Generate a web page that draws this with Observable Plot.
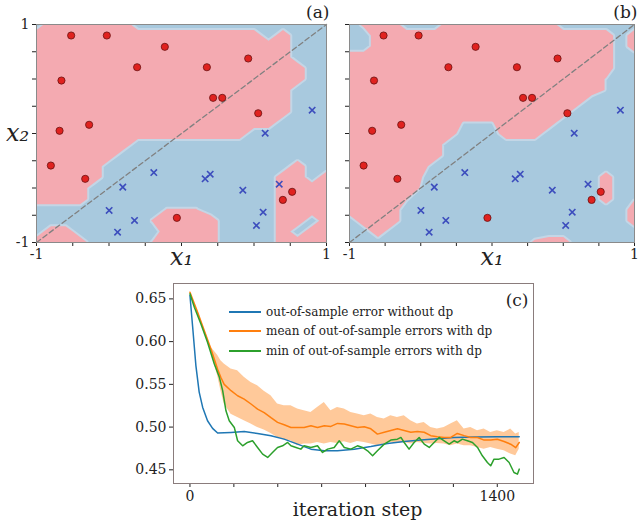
<!DOCTYPE html>
<html><head><meta charset="utf-8">
<script src="https://cdn.jsdelivr.net/npm/d3@7"></script>
<script src="https://cdn.jsdelivr.net/npm/@observablehq/plot@0.6"></script>
<style>
html,body{margin:0;padding:0;background:#fff;}
#fig{position:relative;width:639px;height:524px;overflow:hidden;}
#fig > .panel{position:absolute;}
.legend{position:absolute;left:229px;top:302px;font-family:"DejaVu Serif",serif;font-size:12px;color:#222;}
.legend div{display:flex;align-items:center;height:19.6px;white-space:nowrap;}
.legend span.sw{display:inline-block;width:32px;height:0;border-top:2px solid;margin-right:5px;}
</style></head><body><div id="fig"></div>
<script>
// ---------- data: panels (a) and (b) ----------
const redX = [-0.761,-0.515,-0.115,-0.306,0.175,0.46,-0.828,0.218,0.281,0.529,-0.841,-0.637,-0.901,-0.664,-0.032,0.763,0.699];
const redY = [0.899,0.899,0.795,0.608,0.608,0.688,0.486,0.327,0.327,0.186,0.025,0.080,-0.294,-0.416,-0.774,-0.535,-0.609];
const blueX = [0.901,0.577,-0.191,0.163,0.198,-0.405,0.423,0.674,-0.499,-0.324,0.563,-0.441,0.517];
const blueY = [0.214,0.003,-0.358,-0.416,-0.373,-0.492,-0.520,-0.465,-0.706,-0.798,-0.722,-0.905,-0.844];
const diagX = [-1, 1];
const diagY = [-1, 1];
const gridTicks = [-1,-0.75,-0.5,-0.25,0,0.25,0.5,0.75,1];
// decision grids: 21 x 21 samples from x=-1..1 (columns), y=1..-1 (rows); digit/9 = class-1 score
const gridA = [
"099999900000000000000",
"999999999999999909000",
"999999999999999999000",
"999999999999999999000",
"999999999999999999900",
"999999999999999999900",
"999999999999999999000",
"999999999999999999000",
"999999999999999999000",
"999999999999999990000",
"999999999999999000000",
"999999900000000000000",
"999999000000000000000",
"999990000000000000900",
"999990000000000009909",
"999900000000000009999",
"999900000000000009999",
"000000000555000009999",
"000000005999900009909",
"099000000999900009099",
"999900005999900009999"
];
const gridB = [
"069900099999999000000",
"009999999999999999909",
"009999999999999999909",
"999999999999999999900",
"999999999999999999900",
"999999999999999999400",
"999999999999999999400",
"999999999999999990000",
"999999999999999900000",
"999999994449999000000",
"999999990009990000000",
"999999900000000000000",
"999999900000000000000",
"999999000000000000000",
"999995000000000000800",
"999994000000000000800",
"999950000000000000804",
"999900000000000000009",
"099900000000000000009",
"009000000000000000000",
"000000000000069900000"
];
// ---------- data: panel (c) ----------
const noDpIter = [0,12,27,42,58,80,103,126,187,247,308,369,429,490,551,612,672,748,824,900,976,1052,1127,1203,1300,1400,1500];
const noDpErr = [0.6539,0.618,0.572,0.541,0.523,0.5074,0.4985,0.493,0.4938,0.4949,0.4926,0.4898,0.4859,0.4801,0.4742,0.4723,0.4723,0.4742,0.4773,0.4809,0.4832,0.4848,0.4863,0.4879,0.4885,0.4887,0.4887];
const dpIter = [0,35,65,96,126,141,156,187,217,247,278,308,338,369,399,429,460,490,520,551,581,612,642,672,703,733,763,794,824,854,885,915,945,976,1006,1036,1067,1097,1127,1158,1188,1218,1249,1279,1310,1340,1370,1400,1431,1461,1484,1500];
const dpMean = [0.6578,0.6344,0.613,0.591,0.5676,0.558,0.55,0.5426,0.5367,0.5328,
 0.527,0.5211,0.517,0.511,0.5055,0.5027,0.4996,0.4996,0.4996,0.5016,
 0.4996,0.5016,0.5008,0.5043,0.5035,0.5016,0.4996,0.5004,0.498,0.4918,
 0.494,0.496,0.498,0.496,0.494,0.4949,0.494,0.49,0.4887,0.4879,
 0.4879,0.4926,0.49,0.4879,0.4879,0.4848,0.4848,0.4858,0.4832,0.48,
 0.476,0.482];
const dpHigh = [0.6578,0.636,0.615,0.5934,0.584,0.5777,0.5738,0.568,0.566,0.5582,
 0.5523,0.5484,0.542,0.5367,0.527,0.525,0.525,0.5211,0.5191,0.5172,
 0.523,0.5289,0.5191,0.523,0.5211,0.5172,0.5152,0.5133,0.5152,0.5113,
 0.5094,0.5133,0.5113,0.5133,0.5074,0.5035,0.5055,0.4996,0.4977,0.4996,
 0.5035,0.5074,0.4977,0.4996,0.4957,0.4977,0.4938,0.4957,0.4938,0.4977,
 0.4918,0.4938];
const dpLow = [0.6578,0.633,0.611,0.5875,0.5602,0.5426,0.527,0.515,0.5113,0.5074,
 0.5035,0.4996,0.4965,0.4926,0.4879,0.4848,0.484,0.4781,0.4801,0.4801,
 0.482,0.4801,0.482,0.4809,0.4828,0.4809,0.4832,0.482,0.4801,0.4781,
 0.4801,0.482,0.4809,0.482,0.4801,0.482,0.4809,0.4801,0.4809,0.4801,
 0.4781,0.4801,0.4781,0.4781,0.4762,0.4742,0.4762,0.4742,0.4723,0.4684,
 0.4664,0.4742];
const minIter = [0,20,50,80,111,134,149,164,179,202,217,240,262,285,308,331,354,376,399,422,445,460,483,505,520,551,581,604,627,657,680,703,733,763,786,809,832,854,885,915,945,961,976,998,1021,1044,1067,1090,1112,1135,1158,1181,1203,1219,1241,1264,1287,1310,1332,1355,1370,1385,1408,1431,1454,1476,1492,1500];
const minErr = [0.6559,0.6402,0.6207,0.5992,0.5738,0.5582,0.5426,0.5191,0.5074,0.4996,
 0.484,0.4781,0.482,0.484,0.4762,0.4684,0.4645,0.4703,0.4762,0.4781,
 0.482,0.4781,0.4762,0.4742,0.4781,0.4762,0.4781,0.4703,0.4742,0.4762,
 0.484,0.4762,0.4742,0.4781,0.4762,0.4723,0.4664,0.4723,0.4801,0.4848,
 0.4859,0.4879,0.482,0.4742,0.482,0.4879,0.4801,0.4762,0.482,0.4879,
 0.484,0.4801,0.484,0.482,0.4859,0.484,0.482,0.4762,0.4664,0.4586,
 0.4547,0.4625,0.4625,0.4645,0.4586,0.4469,0.445,0.4508];
const iterTicks = [0,200,400,600,800,1000,1200,1400];
const errTicks = [0.45,0.50,0.55,0.60,0.65];
const legendLabels = ["out-of-sample error without dp","mean of out-of-sample errors with dp","min of out-of-sample errors with dp"];

// ---------- styles ----------
const PINK = "#f4aab1", BLUE = "#a8c9de", EDGE = "#c3d6e6";
const RED = "#e0221f", CROSS = "#3c4dbd";
const C_BLUE = "#1f77b4", C_ORANGE = "#ff7f0e", C_GREEN = "#2ca02c";
const SERIF = "DejaVu Serif, serif";

const redPts = redX.map((x, i) => ({x, y: redY[i]}));
const bluePts = blueX.map((x, i) => ({x, y: blueY[i]}));
const diag = diagX.map((x, i) => ({x, y: diagY[i]}));

function gridValues(grid) {
  grid.forEach((r, i) => { if (r.length !== 21) throw new Error("row " + i + " len " + r.length); });
  return grid.flatMap(row => [...row].map(c => +c / 9));
}

function decisionPanel(grid, o) {
  const values = gridValues(grid);
  const cfg = {width: 21, height: 21, x1: -1.05, x2: 1.05, y1: 1.05, y2: -1.05, value: Plot.identity, thresholds: [0.5], clip: true};
  return Plot.plot({
    width: o.width, height: 270,
    marginLeft: o.ml, marginRight: o.mr, marginTop: 24, marginBottom: 28,
    style: {fontFamily: SERIF, fontSize: "14px", color: "#222", background: "transparent", overflow: "visible"},
    x: {domain: [-1, 1], ticks: gridTicks, tickSize: 4, tickPadding: 3, label: null,
        tickFormat: d => d === -1 ? "-1" : d === 1 ? "1" : ""},
    y: {domain: [-1, 1], ticks: gridTicks, tickSize: 4, tickPadding: 3, label: null,
        tickFormat: d => !o.yLabels ? "" : d === -1 ? "-1" : d === 1 ? "1" : ""},
    marks: [
      Plot.frame({fill: BLUE}),
      Plot.contour(values, {...cfg, fill: "none", stroke: EDGE, strokeWidth: 4}),
      Plot.contour(values, {...cfg, fill: PINK, stroke: "none"}),
      Plot.line(diag, {x: "x", y: "y", stroke: "#808080", strokeWidth: 1.3, strokeDasharray: "5,3"}),
      Plot.dot(bluePts, {x: "x", y: "y", symbol: "times", r: 3, stroke: CROSS, strokeWidth: 1.6}),
      Plot.dot(redPts, {x: "x", y: "y", r: 3.6, fill: RED, stroke: "#6a1010", strokeWidth: 0.8}),
      Plot.frame({stroke: "#8a8a8a"}),
      Plot.text([o.tag], {frameAnchor: "top-right", textAnchor: "end", lineAnchor: "middle", dx: o.tagDx, dy: -12, fontSize: 17, fontFamily: SERIF}),
      Plot.text(["x₁"], {frameAnchor: "bottom", lineAnchor: "middle", dy: 15, fontSize: 24, fontStyle: "italic", fontFamily: SERIF}),
      o.yLabels ? Plot.text(["x₂"], {frameAnchor: "left", textAnchor: "middle", lineAnchor: "middle", dx: -19, fontSize: 24, fontStyle: "italic", fontFamily: SERIF}) : null
    ]
  });
}

const fig = document.getElementById("fig");
function place(node, left, top) {
  node.classList.add("panel");
  node.style.left = left + "px";
  node.style.top = top + "px";
  fig.appendChild(node);
}

place(decisionPanel(gridA, {width: 330, ml: 36, mr: 4, yLabels: true, tag: "(a)", tagDx: 3}), 0, 0);
place(decisionPanel(gridB, {width: 319, ml: 29, mr: 5, yLabels: false, tag: "(b)", tagDx: 3}), 320, 0);

// ---------- panel (c) ----------
const noDp = noDpIter.map((it, i) => ({it, v: noDpErr[i]}));
const dp = dpIter.map((it, i) => ({it, mean: dpMean[i], lo: dpLow[i], hi: dpHigh[i]}));
const mins = minIter.map((it, i) => ({it, v: minErr[i]}));

const pc = Plot.plot({
  width: 420, height: 254,
  marginLeft: 43, marginRight: 17, marginTop: 13, marginBottom: 41,
  style: {fontFamily: SERIF, fontSize: "14px", color: "#222", background: "transparent", overflow: "visible"},
  x: {domain: [-75, 1565], ticks: iterTicks, tickSize: 4, tickPadding: 4, label: null,
      tickFormat: d => (d === 0 || d === 1400) ? String(d) : ""},
  y: {domain: [0.434, 0.668], ticks: errTicks, tickSize: 4, tickPadding: 3, label: null,
      tickFormat: d => d.toFixed(2)},
  marks: [
    Plot.areaY(dp, {x: "it", y1: "lo", y2: "hi", fill: C_ORANGE, fillOpacity: 0.42}),
    Plot.line(noDp, {x: "it", y: "v", stroke: C_BLUE, strokeWidth: 1.5}),
    Plot.line(dp, {x: "it", y: "mean", stroke: C_ORANGE, strokeWidth: 1.5}),
    Plot.line(mins, {x: "it", y: "v", stroke: C_GREEN, strokeWidth: 1.5}),
    Plot.frame({stroke: "#8a7c7c"}),
    Plot.text(["(c)"], {frameAnchor: "top-right", textAnchor: "end", lineAnchor: "middle", dx: -5, dy: 17, fontSize: 17, fontFamily: SERIF}),
    Plot.text(["iteration step"], {frameAnchor: "bottom", lineAnchor: "middle", dx: 4, dy: 26, fontSize: 19, fontFamily: SERIF})
  ]
});
place(pc, 130, 270);

// legend
const lg = document.createElement("div");
lg.className = "legend";
[C_BLUE, C_ORANGE, C_GREEN].forEach((c, i) => {
  const row = document.createElement("div");
  const sw = document.createElement("span");
  sw.className = "sw"; sw.style.borderTopColor = c;
  row.appendChild(sw);
  row.appendChild(document.createTextNode(legendLabels[i]));
  lg.appendChild(row);
});
fig.appendChild(lg);
</script></body></html>
